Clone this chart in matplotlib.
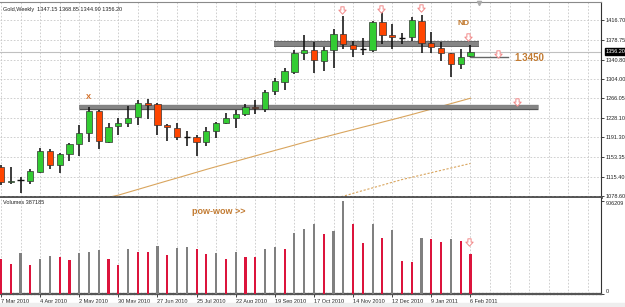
import numpy as np
import matplotlib
matplotlib.use("Agg")
from matplotlib import pyplot as plt
from matplotlib import transforms
from matplotlib.path import Path
import matplotlib.patheffects as pe

plt.rcParams['font.family'] = ['Liberation Sans', 'DejaVu Sans']

## weekly gold bars, 7 Mar 2010 .. 6 Feb 2011
opens = [1134.9, 1106.5, 1108.8, 1107.4, 1125.3, 1165.0, 1138.2, 1159.3, 1178.5, 1199.6,
         1241.9, 1182.9, 1213.1, 1218.3, 1229.8, 1257.8, 1255.3, 1214.4, 1209.8, 1192.5,
         1192.5, 1182.9, 1204.0, 1219.4, 1227.9, 1235.5, 1249.0, 1245.2, 1280.9, 1298.2,
         1317.4, 1352.7, 1359.1, 1338.5, 1359.1, 1389.2, 1368.6, 1361.0, 1359.1, 1412.3,
         1387.9, 1382.1, 1384.6, 1415.4, 1373.1, 1362.3, 1352.7, 1331.6, 1347.15]
highs = [1138.2, 1134.3, 1115.7, 1130.5, 1170.8, 1168.9, 1161.2, 1181.0, 1215.0, 1250.1,
         1243.8, 1218.3, 1227.9, 1251.5, 1263.0, 1264.4, 1256.7, 1216.3, 1218.3, 1204.0,
         1195.8, 1210.6, 1220.2, 1237.5, 1243.8, 1254.8, 1263.0, 1282.2, 1304.7, 1323.9,
         1359.1, 1387.9, 1375.0, 1365.4, 1398.8, 1424.4, 1376.4, 1381.5, 1415.4, 1432.6,
         1409.0, 1392.3, 1423.0, 1426.3, 1393.1, 1375.1, 1353.9, 1360.4, 1368.85]
lows = [1099.7, 1101.7, 1084.9, 1101.7, 1123.4, 1130.5, 1123.4, 1146.4, 1155.4, 1182.9,
        1168.3, 1181.0, 1195.8, 1210.6, 1215.0, 1225.9, 1195.8, 1184.8, 1186.2, 1174.7,
        1155.4, 1174.7, 1190.6, 1216.3, 1209.8, 1232.3, 1236.1, 1240.5, 1272.6, 1282.2,
        1312.9, 1339.9, 1314.3, 1318.7, 1325.1, 1360.4, 1345.5, 1349.5, 1354.6, 1370.0,
        1360.4, 1370.0, 1377.0, 1352.7, 1353.9, 1338.0, 1306.6, 1322.0, 1344.90]
closes = [1106.1, 1108.4, 1109.3, 1126.6, 1165.0, 1138.2, 1159.3, 1178.5, 1199.6, 1241.9,
          1184.3, 1211.7, 1219.4, 1229.0, 1257.8, 1253.4, 1214.4, 1211.7, 1192.5, 1192.9,
          1182.9, 1204.0, 1218.3, 1227.9, 1235.5, 1249.0, 1247.8, 1279.0, 1299.5, 1318.7,
          1352.7, 1359.1, 1339.9, 1359.1, 1389.2, 1370.0, 1361.0, 1361.4, 1412.3, 1387.9,
          1383.5, 1382.4, 1416.7, 1373.1, 1365.4, 1352.7, 1332.2, 1346.2, 1356.20]
volumes = [338000, 293000, 403000, 283000, 341000, 371000, 364000, 332000, 400000, 412000,
           429000, 341000, 280000, 439000, 410000, 406000, 468000, 380000, 446000, 458000,
           439000, 390000, 397000, 341000, 410000, 364000, 358000, 436000, 461000, 439000,
           592000, 634000, 680000, 585000, 617000, 906209, 683000, 500000, 680000, 543000,
           624000, 325000, 315000, 549000, 536000, 510000, 536000, 517000, 387185]

# moving averages, visible part only (from bar 11 / bar 34)
ma_fast = [1076.3, 1080.4, 1085.9, 1091.4, 1096.9, 1102.4, 1107.9, 1113.3, 1118.8, 1124.3,
           1129.8, 1135.1, 1140.2, 1145.4, 1150.6, 1155.8, 1161.0, 1166.2, 1171.3, 1176.5,
           1181.7, 1186.8, 1191.6, 1196.4, 1201.3, 1206.1, 1211.0, 1215.7, 1220.6, 1225.4,
           1230.3, 1235.2, 1240.4, 1245.6, 1250.8, 1256.1, 1261.3, 1266.5]
ma_slow = [1074.4, 1078.4, 1083.8, 1089.2, 1094.4, 1099.7, 1105.1, 1110.3, 1114.7, 1119.1,
           1123.6, 1128.0, 1132.4, 1136.8, 1141.2]

date_labels = ["7 Mar 2010", "4 Apr 2010", "2 May 2010", "30 May 2010", "27 Jun 2010",
               "25 Jul 2010", "22 Aug 2010", "19 Sep 2010", "17 Oct 2010", "14 Nov 2010",
               "12 Dec 2010", "9 Jan 2011", "6 Feb 2011"]
price_ticks = [1078.60, 1115.40, 1153.35, 1191.30, 1228.10, 1266.05, 1304.00, 1340.80,
               1378.75, 1416.70]

resist_hi = 1370.0
resist_lo = 1250.0
level_1345 = 1345.0
bid = closes[-1]

n = len(closes)
x = np.arange(n)

fig = plt.figure(figsize=(6.25, 3.07), dpi=100)
fig.patches.append(plt.Rectangle((0, 0), 1, 4 / 307, transform=fig.transFigure,
                                 color='#eeeeee', zorder=0))

W, H = 625.0, 307.0
right = 600.7 / W
ax = fig.add_axes([0, 1 - 196.5 / H, right, (196.5 - 2) / H])
axv = fig.add_axes([0, 1 - 294 / H, right, (294 - 197.5) / H])

xlim = (-0.1, 61.32)
grid_kw = dict(color='#c8c8c8', lw=0.6, ls=(0, (2, 2)), zorder=0)

# hollow down arrow used for the chart's signal marks
arrow_path = Path([(-0.22, 0.5), (0.22, 0.5), (0.22, 0.05), (0.5, 0.05), (0, -0.5),
                   (-0.5, 0.05), (-0.22, 0.05), (-0.22, 0.5)], closed=True)
arrow_kw = dict(marker=arrow_path, ms=5.3, mfc='white', mec='#f28a8a', mew=0.7,
                ls='none', zorder=7)

## ---- price pane
ax.set_xlim(*xlim)
ax.set_ylim(1077.8, 1451.3)
for k in range(0, 62, 2):
    ax.axvline(k, **grid_kw)
for p in price_ticks:
    ax.axhline(p, **grid_kw)
ax.axhline(bid, color='#c0c0c0', lw=0.8, zorder=1)

# moving averages
ax.plot(x[11:], ma_fast, color='#d9a55e', lw=0.8, zorder=2)
ax.plot(x[34:], ma_slow, color='#d9a55e', lw=0.8, ls=(0, (2, 1.5)), zorder=2)

# support / resistance
edge = [pe.Stroke(linewidth=4.2, foreground='#555555'), pe.Normal()]
ax.plot([27.9, 48.9], [resist_hi, resist_hi], color='#858585', lw=3.2,
        solid_capstyle='butt', zorder=3, path_effects=edge)
ax.plot([7.98, 54.9], [resist_lo, resist_lo], color='#858585', lw=2.8,
        solid_capstyle='butt', zorder=3,
        path_effects=[pe.Stroke(linewidth=3.8, foreground='#555555'), pe.Normal()])
ax.plot([48.0, 51.8], [level_1345, level_1345], color='#666666', lw=1.0, zorder=3)

# candles
o = np.array(opens); c = np.array(closes)
ax.vlines(x, lows, highs, color='#111111', lw=1.15, zorder=4)
up = c > o + 0.8
dn = c < o - 0.8
dj = ~(up | dn)
bw = 0.64
ax.bar(x[up], (c - o)[up], bottom=o[up], width=bw, color='#33cc33',
       edgecolor='#333333', lw=0.5, zorder=5)
ax.bar(x[dn], (o - c)[dn], bottom=c[dn], width=bw, color='#ff4500',
       edgecolor='#333333', lw=0.5, zorder=5)
ax.hlines(c[dj], x[dj] - bw / 2, x[dj] + bw / 2, color='#111111', lw=1.0, zorder=5)

# price axis
ax.yaxis.tick_right()
ax.set_yticks(price_ticks)
ax.set_yticklabels(["%.2f" % p for p in price_ticks])
ax.tick_params(axis='y', length=2.5, width=0.6, pad=1, labelsize=4, colors='#222222')
ax.set_xticks([])
ax.spines['left'].set_visible(False)
ax.spines['top'].set_color('#8a8a8a')
ax.spines['right'].set_color('#333333')
ax.spines['right'].set_linewidth(0.8)
ax.spines['bottom'].set_color('#555555')
ax.spines['bottom'].set_linewidth(2.0)
ax.spines['bottom'].set_linestyle((0, (1, 0.6)))

trans = transforms.blended_transform_factory(ax.transAxes, ax.transData)
ax.text(1.008, bid, "%.2f" % bid, transform=trans, fontsize=4, color='white',
        va='center', ha='left',
        bbox=dict(boxstyle='square,pad=0.15', fc='black', ec='black'))

ax.text(0.005, 0.975, "Gold,Weekly  %.2f %.2f %.2f %.2f" % (opens[-1], highs[-1], lows[-1], closes[-1]),
        transform=ax.transAxes, fontsize=4, color='#222222', va='top', ha='left')

# annotations
brown = '#c27b32'
ax.plot([34.87, 38.9, 42.9, 47.75, 50.8, 52.8],
        [1435.9, 1438.8, 1439.7, 1385.0, 1352.3, 1260.1], **arrow_kw)
ax.text(47.3, 1410.0, "ND", fontsize=6, fontweight='bold', color=brown, ha='center', va='center')
ax.text(52.5, 1343.0, "1.3450", fontsize=7, fontweight='bold', color=brown, ha='left', va='center')
ax.text(8.9, 1268.0, "X", fontsize=5.5, fontweight='bold', color='#d2691e', ha='center', va='center')
ax.plot([48.9], [1449.5], marker='v', ms=3, color='#aaaaaa', clip_on=False, zorder=6)

## ---- volume pane
axv.set_xlim(*xlim)
vol = np.array(volumes)
vcol = ['#dc143c' if i > 0 and vol[i] < vol[i - 1] else '#808080' for i in range(n)]
vcol[0] = '#dc143c'
for k in range(0, 62, 2):
    axv.axvline(k, **grid_kw)
axv.bar(x, vol, width=0.22, color=vcol, zorder=3)
axv.set_ylim(0, 906209 * 1.035)
axv.yaxis.tick_right()
axv.set_yticks([0, 906209])
axv.set_yticklabels(["0", "906209"])
axv.tick_params(axis='y', length=2.5, width=0.6, pad=1, labelsize=4, colors='#222222')
tl = axv.get_yticklabels()
tl[0].set_va('bottom')
tl[1].set_va('top')
axv.set_xticks(np.arange(0, n, 4))
axv.set_xticklabels(date_labels, ha='left')
axv.tick_params(axis='x', length=2, width=0.6, pad=1.5, labelsize=4, colors='#222222')
axv.spines['left'].set_visible(False)
axv.spines['top'].set_visible(False)
axv.spines['right'].set_color('#333333')
axv.spines['right'].set_linewidth(0.8)
axv.spines['bottom'].set_color('#555555')
axv.spines['bottom'].set_linewidth(1.6)
axv.spines['bottom'].set_linestyle((0, (1, 0.6)))

axv.text(0.005, 0.97, "Volumes %d" % volumes[-1], transform=axv.transAxes, fontsize=4,
         color='#222222', va='top', ha='left')
axv.text(19.5, 800000, "pow-wow >>", fontsize=6.5, fontweight='bold', color=brown,
         ha='left', va='center')
axv.plot([47.85], [507000], **arrow_kw)

fig.savefig("out.png", dpi=100)
